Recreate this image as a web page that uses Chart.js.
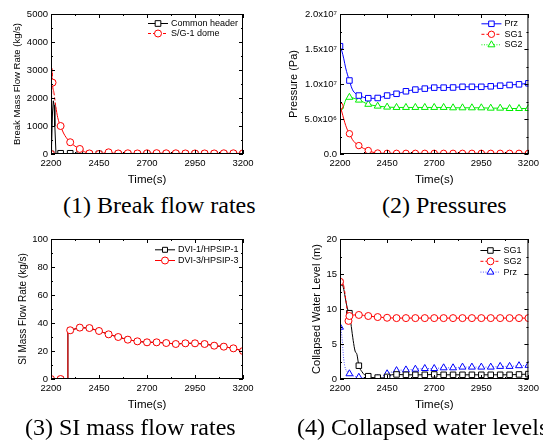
<!DOCTYPE html>
<html>
<head>
<meta charset="utf-8">
<script src="https://cdn.jsdelivr.net/npm/chart.js@4.4.0/dist/chart.umd.min.js"></script>
<style>
  html, body { margin: 0; padding: 0; background: #fff; width: 543px; height: 441px; overflow: hidden; }
  canvas { position: absolute; }
  .cap {
    position: absolute;
    font-family: "Liberation Serif", "Times New Roman", serif;
    font-size: 24px;
    line-height: 23px;
    white-space: nowrap;
    color: #000;
  }
</style>
</head>
<body>
<canvas id="c1" width="272" height="190" style="left:0;top:0"></canvas>
<canvas id="c2" width="271" height="190" style="left:272px;top:0"></canvas>
<canvas id="c3" width="272" height="195" style="left:0;top:220px"></canvas>
<canvas id="c4" width="271" height="195" style="left:272px;top:220px"></canvas>
<div class="cap" style="left:63px;top:194px">(1) Break flow rates</div>
<div class="cap" style="left:382px;top:194px">(2) Pressures</div>
<div class="cap" style="left:25px;top:416px">(3) SI mass flow rates</div>
<div class="cap" style="left:297px;top:416px">(4) Collapsed water levels</div>

<script>
// (1) Break flow rates, kg/s
const headerTime = [2200, 2203, 2208, 2212, 2216, 2220, 2226, 2240, 2250, 2260, 2290, 2300, 2310, 2340, 2350, 2360,
  2400, 2450, 2500, 2550, 2600, 2650, 2700, 2750, 2800, 2850, 2900, 2950, 3000, 3050, 3100, 3150, 3200];
const headerFlow = [0, 300, 1500, 1900, 1750, 1000, 0, 0, 25, 0, 0, 25, 0, 0, 80, 0,
  0, 0, 0, 0, 0, 0, 0, 0, 0, 0, 0, 0, 0, 0, 0, 0, 0];
const domeTime = [2200, 2206, 2208, 2215, 2225, 2235, 2250, 2265, 2280, 2300, 2325, 2350, 2375, 2400, 2425, 2450,
  2475, 2500, 2525, 2550, 2600, 2650, 2700, 2750, 2800, 2850, 2900, 2950, 3000, 3050, 3100, 3150, 3200];
const domeFlow = [0, 3050, 2550, 2200, 1700, 1300, 1000, 750, 580, 420, 280, 180, 80, 20, 5, 0,
  30, 60, 30, 20, 25, 20, 25, 30, 25, 25, 20, 20, 20, 20, 25, 25, 25];

// (2) Pressures, Pa
const przTime = [2200, 2210, 2220, 2230, 2240, 2250, 2260, 2270, 2280, 2290, 2300, 2325, 2350, 2375, 2400,
  2450, 2500, 2550, 2600, 2650, 2700, 2750, 2800, 2850, 2900, 2950, 3000, 3050, 3100, 3150, 3200];
const przPress = [15.4e6, 14.7e6, 13.6e6, 12.3e6, 11.3e6, 10.5e6, 9.6e6, 9.0e6, 8.7e6, 8.5e6, 8.35e6, 8.1e6, 7.97e6, 7.95e6, 8.0e6,
  8.35e6, 8.6e6, 8.96e6, 9.2e6, 9.34e6, 9.48e6, 9.48e6, 9.5e6, 9.6e6, 9.6e6, 9.6e6, 9.67e6, 9.76e6, 9.86e6, 9.95e6, 10.1e6];
const sg1Time = [2200, 2210, 2220, 2230, 2240, 2250, 2265, 2280, 2300, 2325, 2350, 2375, 2400,
  2450, 2500, 2550, 2600, 2650, 2700, 2750, 2800, 2850, 2900, 2950, 3000, 3050, 3100, 3150, 3200];
const sg1Press = [6.84e6, 6.0e6, 5.0e6, 4.1e6, 3.4e6, 2.9e6, 2.1e6, 1.6e6, 1.2e6, 0.8e6, 0.5e6, 0.25e6, 0.14e6,
  0.1e6, 0.1e6, 0.1e6, 0.1e6, 0.1e6, 0.1e6, 0.1e6, 0.1e6, 0.1e6, 0.1e6, 0.1e6, 0.1e6, 0.1e6, 0.1e6, 0.1e6, 0.1e6];
const sg2Time = [2200, 2210, 2220, 2230, 2240, 2250, 2275, 2300, 2325, 2350, 2375, 2400,
  2450, 2500, 2550, 2600, 2650, 2700, 2750, 2800, 2850, 2900, 2950, 3000, 3050, 3100, 3150, 3200];
const sg2Press = [6.84e6, 6.3e6, 6.9e6, 7.7e6, 8.05e6, 8.1e6, 7.95e6, 7.7e6, 7.4e6, 7.1e6, 6.95e6, 6.84e6,
  6.7e6, 6.65e6, 6.65e6, 6.65e6, 6.65e6, 6.65e6, 6.65e6, 6.6e6, 6.6e6, 6.6e6, 6.6e6, 6.55e6, 6.55e6, 6.5e6, 6.5e6, 6.5e6];
const pressureTicks = ["0.0", "5.0x10\u2076", "1.0x10\u2077", "1.5x10\u2077", "2.0x10\u2077"];

// (3) SI mass flow rates, kg/s
const siTime = [2200, 2250, 2287, 2288, 2300, 2350, 2400, 2450, 2500, 2550, 2600, 2650, 2700, 2750,
  2800, 2850, 2900, 2950, 3000, 3050, 3100, 3150, 3200];
const dvi1Flow = [0, 0, 0, 34.5, 34.8, 36.7, 36.4, 34.3, 31.9, 30.0, 28.1, 26.9, 26.2, 26.2,
  25.7, 25.0, 25.5, 25.5, 25.0, 23.8, 23.1, 21.9, 20.0];
const dvi3Flow = [0, 0, 0, 34.5, 34.8, 36.7, 36.4, 34.3, 31.9, 30.0, 28.1, 26.9, 26.2, 26.2,
  25.7, 25.0, 25.5, 25.5, 25.0, 23.8, 23.1, 21.9, 20.0];

// (4) Collapsed water levels, m
const lvSg1Time = [2200, 2210, 2220, 2230, 2240, 2250, 2260, 2270, 2280, 2290, 2300, 2315, 2330, 2350, 2375, 2400,
  2425, 2450, 2460, 2475, 2500, 2550, 2600, 2650, 2700, 2750, 2800, 2850, 2900, 2950, 3000, 3050, 3100, 3150, 3200];
const lvSg1 = [13.8, 13.7, 12.8, 11.3, 10.0, 9.4, 7.5, 5.5, 4.0, 3.5, 1.9, 1.1, 0.6, 0.4, 0.2, 0.2,
  0.15, 0.3, 0.5, 0.6, 0.65, 0.6, 0.6, 0.6, 0.65, 0.6, 0.6, 0.6, 0.6, 0.6, 0.6, 0.6, 0.6, 0.65, 0.7];
const lvSg2Time = [2200, 2210, 2220, 2230, 2240, 2245, 2250, 2260, 2275, 2300, 2350, 2400, 2450,
  2500, 2550, 2600, 2650, 2700, 2750, 2800, 2850, 2900, 2950, 3000, 3050, 3100, 3150, 3200];
const lvSg2 = [13.9, 13.7, 13.3, 11.5, 9.3, 8.3, 9.0, 9.1, 9.15, 9.15, 9.0, 8.85, 8.75,
  8.7, 8.7, 8.7, 8.7, 8.7, 8.7, 8.7, 8.7, 8.7, 8.7, 8.7, 8.7, 8.7, 8.7, 8.7];
const lvPrzTime = [2200, 2207, 2212, 2216, 2220, 2225, 2230, 2240, 2250, 2275, 2300, 2350, 2400, 2425, 2450, 2475,
  2500, 2550, 2600, 2650, 2700, 2750, 2800, 2850, 2900, 2950, 3000, 3050, 3100, 3150, 3200];
const lvPrz = [7.4, 6.8, 5.5, 4.0, 2.8, 1.9, 1.4, 1.0, 0.75, 0.4, 0.25, 0.1, 0.05, 0.2, 0.75, 1.0,
  1.2, 1.3, 1.4, 1.5, 1.5, 1.6, 1.6, 1.7, 1.7, 1.7, 1.7, 1.8, 1.8, 1.9, 1.95];

Chart.defaults.font.family = "'Liberation Sans', Arial, sans-serif";
Chart.defaults.color = "#000";

// long segments show the dash pattern, short ones look solid (as in the original plot)
function segLen(c) {
  return Math.hypot(c.p1.x - c.p0.x, c.p1.y - c.p0.y);
}

function series(label, times, values, st) {
  const extra = st.extra || [];
  return {
    label,
    data: times.map((t, i) => ({ x: t, y: values[i] })),
    borderColor: st.color,
    borderWidth: 1,
    borderDash: st.fullDash || [],
    backgroundColor: "#fff",
    pointStyle: st.marker,
    pointBorderColor: st.markColor || st.color,
    pointBackgroundColor: "#fff",
    pointBorderWidth: 1,
    pointRadius: (c) => (c.raw && (c.raw.x % 50 === 0 || extra.includes(c.raw.x)) ? st.size : 0),
    pointHoverRadius: 0,
    legendDash: st.dash || st.fullDash || [],
    legendColor: st.color,
    legendSize: st.size,
    segment: st.dash ? { borderDash: (c) => (segLen(c) > 12 ? st.dash : undefined) } : undefined,
    cubicInterpolationMode: st.smooth ? "monotone" : "default",
    tension: 0,
    order: st.order || 0,
  };
}

const framePlugin = {
  id: "panelFrame",
  afterDraw(chart, args, opts) {
    const { ctx, chartArea: a, scales: { x, y } } = chart;
    ctx.save();
    ctx.strokeStyle = "#000";
    ctx.lineWidth = 1;
    ctx.strokeRect(a.left + 0.5, a.top + 0.5, a.right - a.left - 1, a.bottom - a.top - 1);

    // inward major and minor ticks on all four sides
    ctx.beginPath();
    const xt = x.ticks.map((t) => t.value);
    xt.forEach((v, i) => {
      const marks = [[v, 4]];
      if (i < xt.length - 1) marks.push([(v + xt[i + 1]) / 2, 2]);
      marks.forEach(([mv, len]) => {
        const px = Math.round(x.getPixelForValue(mv)) + 0.5;
        ctx.moveTo(px, a.bottom); ctx.lineTo(px, a.bottom - len);
        ctx.moveTo(px, a.top); ctx.lineTo(px, a.top + len);
      });
    });
    const yt = y.ticks.map((t) => t.value);
    yt.forEach((v, i) => {
      const marks = [[v, 4]];
      if (i < yt.length - 1) marks.push([(v + yt[i + 1]) / 2, 2]);
      marks.forEach(([mv, len]) => {
        const py = Math.round(y.getPixelForValue(mv)) + 0.5;
        ctx.moveTo(a.left, py); ctx.lineTo(a.left + len, py);
        ctx.moveTo(a.right, py); ctx.lineTo(a.right - len, py);
      });
    });
    ctx.stroke();

    // legend inside the plot, top right
    ctx.font = "9px 'Liberation Sans', Arial, sans-serif";
    ctx.textBaseline = "middle";
    ctx.textAlign = "left";
    chart.data.datasets.forEach((ds, i) => {
      const x0 = a.right - opts.dx;
      const yy = a.top + opts.y0 + i * opts.step;
      ctx.save();
      ctx.strokeStyle = ds.legendColor;
      ctx.lineWidth = 1;
      ctx.setLineDash(ds.legendDash);
      ctx.beginPath();
      ctx.moveTo(x0, yy + 0.5);
      ctx.lineTo(x0 + 20, yy + 0.5);
      ctx.stroke();
      ctx.setLineDash([]);
      ctx.fillStyle = "#fff";
      ctx.strokeStyle = ds.pointBorderColor;
      Chart.helpers.drawPoint(ctx, { pointStyle: ds.pointStyle, radius: ds.legendSize, borderWidth: 1, rotation: 0 }, x0 + 10, yy + 0.5);
      ctx.restore();
      ctx.fillStyle = "#000";
      ctx.fillText(ds.label, x0 + 23, yy + 0.5);
    });
    ctx.restore();
  },
};

function panelOptions(p) {
  return {
    responsive: false,
    animation: false,
    events: [],
    layout: { padding: { top: p.padTop, right: p.padRight, left: 0, bottom: 0 } },
    plugins: {
      legend: { display: false },
      tooltip: { enabled: false },
      panelFrame: p.legend,
    },
    scales: {
      x: {
        type: "linear",
        min: 2200,
        max: 3200,
        ticks: { stepSize: 250, font: { size: 9.5 }, padding: 4, maxRotation: 0, autoSkip: false, callback: (v) => String(v) },
        grid: { display: false, drawTicks: false },
        border: { display: false },
        title: { display: true, text: "Time(s)", font: { size: 11.5 }, padding: { top: 0, bottom: 3 } },
        afterFit: (s) => { s.height = 36; },
      },
      y: {
        type: "linear",
        min: p.yMin,
        max: p.yMax,
        ticks: { stepSize: p.yStep, font: { size: 9.5 }, padding: 3, autoSkip: false, callback: p.yLabel || ((v) => String(v)) },
        grid: { display: false, drawTicks: false },
        border: { display: false },
        title: { display: true, text: p.yTitle, font: { size: p.yTitleSize }, padding: { top: p.yTitlePad, bottom: 0 } },
        afterFit: (s) => { s.width = p.yWidth; },
      },
    },
  };
}

function makePanel(id, datasets, p) {
  new Chart(document.getElementById(id), {
    type: "line",
    data: { datasets },
    options: panelOptions(p),
    plugins: [framePlugin],
  });
}

makePanel("c1", [
  series("Common header", headerTime, headerFlow, { color: "#000", marker: "rect", size: 4, order: 1 }),
  series("S/G-1 dome", domeTime, domeFlow, { color: "#ff0000", marker: "circle", size: 3.5, dash: [3, 2], smooth: true, extra: [2208], order: 0 }),
], {
  padTop: 14, padRight: 29, yWidth: 51, yMin: 0, yMax: 5000, yStep: 1000,
  yTitle: "Break Mass Flow Rate (kg/s)", yTitleSize: 9.5, yTitlePad: 11.3,
  legend: { dx: 95, y0: 9, step: 10 },
});

makePanel("c2", [
  series("Prz", przTime, przPress, { color: "#0000ff", marker: "rect", size: 3.9, smooth: true }),
  series("SG1", sg1Time, sg1Press, { color: "#ff0000", marker: "circle", size: 3.2, dash: [3, 2], smooth: true }),
  series("SG2", sg2Time, sg2Press, { color: "#00ee00", marker: "triangle", size: 4, dash: [1, 1.5], smooth: true }),
], {
  padTop: 14, padRight: 11, yWidth: 68, yMin: 0, yMax: 2.0e7, yStep: 5.0e6,
  yLabel: (v, i) => pressureTicks[i],
  yTitle: "Pressure (Pa)", yTitleSize: 11, yTitlePad: 15.4,
  legend: { dx: 47, y0: 9.3, step: 10.5 },
});

makePanel("c3", [
  series("DVI-1/HPSIP-1", siTime, dvi1Flow, { color: "#000", marker: "rect", size: 3.5, order: 1 }),
  series("DVI-3/HPSIP-3", siTime, dvi3Flow, { color: "#ff0000", marker: "circle", size: 3.5, order: 0 }),
], {
  padTop: 19, padRight: 29, yWidth: 51, yMin: 0, yMax: 100, yStep: 20,
  yTitle: "SI Mass Flow Rate (kg/s)", yTitleSize: 10, yTitlePad: 17,
  legend: { dx: 88, y0: 10.3, step: 10.7 },
});

makePanel("c4", [
  series("SG1", lvSg1Time, lvSg1, { color: "#000", marker: "rect", size: 3.9, smooth: true, order: 1 }),
  series("SG2", lvSg2Time, lvSg2, { color: "#ff0000", marker: "circle", size: 3.5, dash: [3, 2], smooth: true, extra: [2245], order: 0 }),
  series("Prz", lvPrzTime, lvPrz, { color: "#5555ff", markColor: "#0000ff", marker: "triangle", size: 4, fullDash: [1, 1.5], smooth: true, order: 2 }),
], {
  padTop: 19, padRight: 11, yWidth: 68, yMin: 0, yMax: 20, yStep: 5,
  yTitle: "Collapsed Water Level (m)", yTitleSize: 11, yTitlePad: 38,
  legend: { dx: 48, y0: 11, step: 10.8 },
});
</script>
</body>
</html>
